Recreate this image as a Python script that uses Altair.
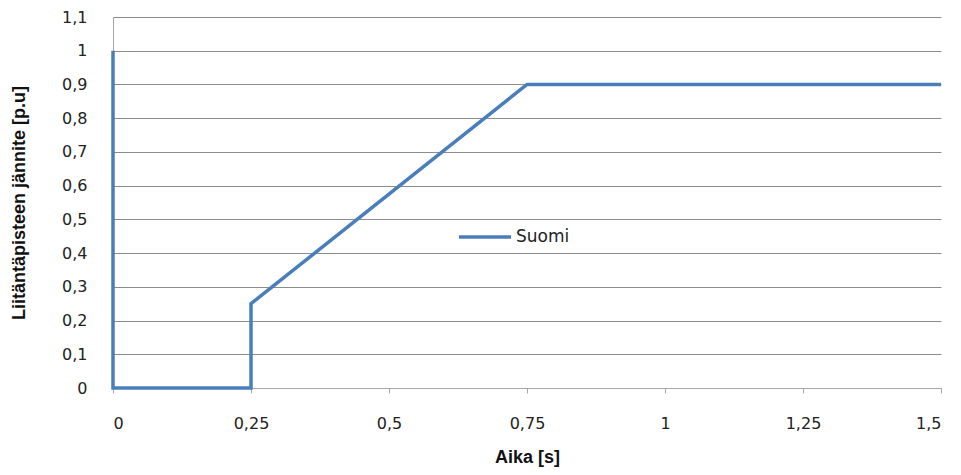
import altair as alt
import pandas as pd

time_s = [0, 0, 0.25, 0.25, 0.75, 1.5]
voltage_pu = [1.0, 0.0, 0.0, 0.25, 0.9, 0.9]
series = ["Suomi"] * len(time_s)
x_ticks = [0, 0.25, 0.5, 0.75, 1, 1.25, 1.5]
y_ticks = [0, 0.1, 0.2, 0.3, 0.4, 0.5, 0.6, 0.7, 0.8, 0.9, 1.0, 1.1]

df = pd.DataFrame({"t": time_s, "v": voltage_pu, "s": series, "o": list(range(len(time_s)))})

lab = "replace(format(datum.value, '~g'), '.', ',')"

chart = alt.Chart(df).mark_line(strokeWidth=3.5, strokeJoin="miter").encode(
    x=alt.X("t:Q", scale=alt.Scale(domain=[0, 1.5], nice=False),
            axis=alt.Axis(values=x_ticks, labelExpr=lab, title="Aika [s]", grid=False,
                          tickSize=5, labelPadding=22, titlePadding=17,
                          domainColor="#a6a6a6", tickColor="#a6a6a6")),
    y=alt.Y("v:Q", scale=alt.Scale(domain=[0, 1.1], nice=False),
            axis=alt.Axis(values=y_ticks, labelExpr=lab, title="Liitäntäpisteen jännite [p.u]",
                          grid=True, gridColor="#8c8c8c", ticks=False, labelPadding=26,
                          titlePadding=33, domainColor="#a6a6a6")),
    color=alt.Color("s:N", scale=alt.Scale(range=["#4a7ebb"]),
                    legend=alt.Legend(title=None, orient="none", legendX=344, legendY=192,
                                      symbolType="stroke", symbolSize=2704, symbolStrokeWidth=3.5,
                                      labelFontSize=17, labelFont="DejaVu Sans", labelColor="#222",
                                      labelOffset=3)),
    order="o:Q",
).properties(
    width=828, height=371,
    autosize=alt.AutoSizeParams(type="none"),
    padding={"left": 105, "top": 9, "right": 12, "bottom": 79},
).configure_axis(
    labelFont="DejaVu Sans", labelFontSize=16, labelColor="#222",
    titleFont="Liberation Sans", titleFontSize=18, titleFontWeight="bold", titleColor="#111",
).configure_view(stroke=None)

chart.save("out.html", embed_options={"renderer": "svg", "actions": False})
